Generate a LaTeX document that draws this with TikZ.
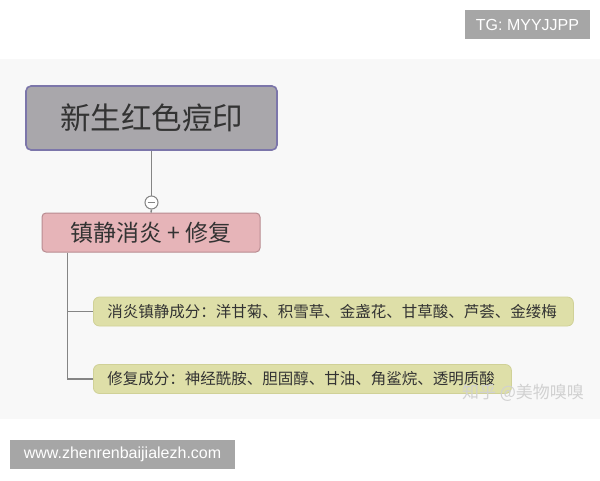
\documentclass[tikz,border=0pt]{standalone}
\usepackage{fontspec}
\setmainfont{Liberation Sans}
\newfontfamily\cjk{Noto Sans CJK SC}
\definecolor{panelbg}{HTML}{F8F8F8}
\definecolor{rootfill}{HTML}{A9A7AB}
\definecolor{rootdraw}{HTML}{7C76AA}
\definecolor{pinkfill}{HTML}{E6B4B8}
\definecolor{pinkdraw}{HTML}{B98C91}
\definecolor{leaffill}{HTML}{DEDFA8}
\definecolor{leafdraw}{HTML}{D0D197}
\definecolor{linegray}{HTML}{858585}
\definecolor{txt}{HTML}{333333}
\definecolor{tagbg}{HTML}{A6A6A6}
\tikzset{
  rootbox/.style={draw=rootdraw, line width=1.6pt, fill=rootfill, rounded corners=5pt,
    minimum width=251pt, minimum height=64pt, inner sep=0pt,
    font=\cjk\fontsize{30.5}{33}\selectfont, text=txt},
  midbox/.style={draw=pinkdraw, line width=1pt, fill=pinkfill, rounded corners=4pt,
    minimum width=218pt, minimum height=39pt, inner sep=0pt,
    font=\cjk\fontsize{23}{26}\selectfont, text=txt},
  leafbox/.style={draw=leafdraw, line width=0.8pt, fill=leaffill, rounded corners=6pt,
    minimum height=29pt, inner ysep=0pt, inner xsep=14pt, align=left,
    font=\cjk\fontsize{15.5}{18}\selectfont, text=txt, anchor=west},
  conn/.style={draw=linegray, line width=1.5pt},
  tagbox/.style={fill=tagbg, text=white, inner sep=0pt, font=\fontsize{16}{18}\selectfont},
  collapse/.style={circle, draw=linegray, line width=1pt, fill=white, minimum size=13pt, inner sep=0pt,
    path picture={\draw[linegray, line width=1pt] ([xshift=-3.8pt]path picture bounding box.center) -- ([xshift=3.8pt]path picture bounding box.center);}}
}
\begin{document}
\begin{tikzpicture}[x=1pt,y=-1pt]
\useasboundingbox[fill=white] (0,0) rectangle (600,480);
\fill[panelbg] (0,59) rectangle (600,419);
% tags
\node[tagbox, minimum width=125pt, minimum height=29pt] (tg) at (527.5,24.5) {TG: MYYJJPP};
\node[tagbox, minimum width=225pt, minimum height=29pt] (www) at (122.5,454.5) {www.zhenrenbaijialezh.com};
% nodes
\node[rootbox] (root) at (151.5,118) {新生红色痘印};
\node[collapse] (col) at (151.5,202.5) {};
\node[midbox] (mid) at (151,232.5) {镇静消炎 + 修复};
\node[leafbox, text width=452pt] (l1) at (93,311.5) {消炎镇静成分：洋甘菊、积雪草、金盏花、甘草酸、芦荟、金缕梅};
\node[leafbox, text width=390pt] (l2) at (93,379) {修复成分：神经酰胺、胆固醇、甘油、角鲨烷、透明质酸};
\node[font=\cjk\fontsize{17}{19}\selectfont, text=black!18, anchor=center] (zh) at (523,393) {知乎 @美物嗅嗅};
% connectors
\coordinate (trunk) at ([xshift=26pt]mid.south west);
\draw[conn] (root.south) -- (col.north);
\draw[conn] (col.south) -- (mid.north);
\draw[conn] (trunk) |- (l1.west);
\draw[conn] (trunk) |- (l2.west);
\end{tikzpicture}
\end{document}
